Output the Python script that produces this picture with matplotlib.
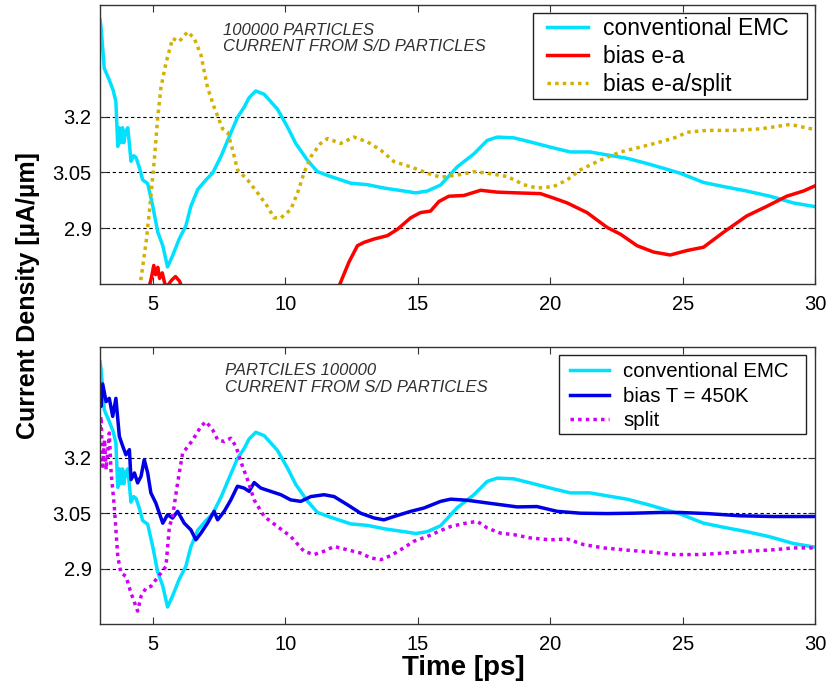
import numpy as np
import matplotlib
matplotlib.use("Agg")
import matplotlib.pyplot as plt
from matplotlib.patches import Rectangle

plt.rcParams['font.family'] = ['Liberation Sans', 'DejaVu Sans']

# conventional EMC (same run in both panels)
t_conv = [3.0, 3.04, 3.16, 3.34, 3.5, 3.6, 3.67, 3.73, 3.79, 3.85, 3.9, 3.97, 4.05, 4.17, 4.27, 4.36, 4.5, 4.61,
          4.8, 4.99, 5.18, 5.37, 5.55, 5.74, 5.99, 6.24, 6.43, 6.69, 7.0, 7.25, 7.56, 7.82, 8.19, 8.44, 8.63,
          8.88, 9.2, 9.7, 10.08, 10.39, 10.83, 11.21, 11.71, 12.47, 13.1, 13.72, 14.48, 14.92, 15.36, 15.86,
          16.49, 17.12, 17.62, 18.0, 18.62, 19.25, 20.0, 20.76, 21.5, 22.15, 22.9, 23.65, 24.28, 24.9, 25.79,
          26.54, 27.42, 28.3, 29.18, 30.0]
j_conv = [3.46, 3.44, 3.33, 3.30, 3.27, 3.24, 3.12, 3.17, 3.13, 3.17, 3.13, 3.16, 3.17, 3.08, 3.095, 3.09, 3.06, 3.03,
          3.02, 2.96, 2.89, 2.853, 2.796, 2.826, 2.871, 2.906, 2.959, 3.004, 3.03, 3.048, 3.092, 3.136, 3.198,
          3.225, 3.251, 3.269, 3.26, 3.22, 3.172, 3.128, 3.083, 3.052, 3.039, 3.021, 3.017, 3.008, 3.0, 2.995,
          3.0, 3.016, 3.065, 3.1, 3.136, 3.145, 3.143, 3.132, 3.118, 3.105, 3.105, 3.097, 3.088, 3.074, 3.061,
          3.048, 3.023, 3.012, 3.0, 2.986, 2.968, 2.958]

# bias e-a (leaves the plot below 2.75 between ~6 and 12 ps)
t_bias_ea = [4.85, 4.95, 5.03, 5.1, 5.18, 5.25, 5.35, 5.45, 5.55, 5.7, 5.85, 6.0, 6.1, 9.0,
             12.0, 12.4, 12.72, 12.97, 13.35, 13.85, 14.23, 14.73, 15.1, 15.48, 15.8, 16.17, 16.74, 17.37,
             18.0, 18.75, 19.63, 20.13, 20.64, 21.39, 22.15, 22.65, 23.28, 23.9, 24.53, 25.16, 25.79, 26.54,
             27.42, 28.18, 28.93, 29.56, 30.0]
j_bias_ea = [2.74, 2.77, 2.80, 2.775, 2.795, 2.765, 2.78, 2.75, 2.745, 2.76, 2.77, 2.758, 2.74, np.nan,
             2.74, 2.809, 2.853, 2.862, 2.871, 2.88, 2.897, 2.928, 2.942, 2.946, 2.972, 2.986, 2.988, 3.002,
             2.997, 2.995, 2.993, 2.981, 2.968, 2.942, 2.902, 2.884, 2.853, 2.836, 2.828, 2.84, 2.849, 2.889,
             2.933, 2.959, 2.986, 3.0, 3.014]

# bias e-a/split
t_split_ea = [4.5, 4.74, 4.86, 5.05, 5.18, 5.3, 5.49, 5.74, 5.99, 6.31, 6.56, 6.81, 7.06, 7.31, 7.63, 7.82,
              8.01, 8.19, 8.57, 8.95, 9.32, 9.57, 9.83, 10.2, 10.46, 10.7, 10.96, 11.33, 11.59, 12.09, 12.59,
              13.1, 13.6, 14.1, 14.73, 15.36, 15.86, 16.49, 17.12, 17.62, 18.38, 19.0, 19.5, 20.13, 20.64,
              21.14, 21.89, 22.65, 23.4, 24.16, 24.78, 25.16, 25.92, 26.92, 27.93, 29.06, 30.0]
j_split_ea = [2.74, 2.862, 2.942, 3.083, 3.198, 3.278, 3.344, 3.41, 3.402, 3.428, 3.41, 3.366, 3.278, 3.225,
              3.167, 3.158, 3.11, 3.057, 3.03, 2.995, 2.959, 2.928, 2.928, 2.95, 2.995, 3.048, 3.092, 3.128,
              3.141, 3.128, 3.145, 3.132, 3.11, 3.079, 3.065, 3.048, 3.037, 3.043, 3.052, 3.048, 3.039, 3.017,
              3.008, 3.012, 3.03, 3.057, 3.083, 3.105, 3.118, 3.132, 3.145, 3.158, 3.163, 3.163, 3.167, 3.179,
              3.165]

# bias T = 450K
t_bias_T = [3.0, 3.04, 3.1, 3.23, 3.35, 3.48, 3.6, 3.73, 3.86, 3.98, 4.11, 4.17, 4.3, 4.42, 4.55, 4.67, 4.8,
            4.92, 5.11, 5.37, 5.55, 5.74, 5.93, 6.18, 6.43, 6.62, 6.81, 7.06, 7.31, 7.44, 7.69, 7.94, 8.19,
            8.44, 8.63, 8.82, 9.07, 9.45, 9.83, 10.2, 10.58, 10.96, 11.46, 11.84, 12.34, 12.84, 13.35, 13.72,
            14.1, 14.73, 15.23, 15.86, 16.24, 16.87, 17.49, 18.12, 18.75, 19.5, 20.26, 21.14, 22.15, 23.15,
            24.16, 24.9, 25.92, 27.17, 28.43, 30.0]
j_bias_T = [3.36, 3.339, 3.40, 3.352, 3.361, 3.312, 3.361, 3.258, 3.231, 3.208, 3.222, 3.141, 3.159, 3.132,
            3.15, 3.195, 3.159, 3.105, 3.077, 3.023, 3.046, 3.037, 3.055, 3.023, 3.005, 2.978, 2.996, 3.023,
            3.055, 3.032, 3.055, 3.086, 3.123, 3.118, 3.109, 3.133, 3.118, 3.109, 3.1, 3.086, 3.082, 3.095,
            3.1, 3.095, 3.073, 3.05, 3.037, 3.032, 3.041, 3.055, 3.064, 3.082, 3.088, 3.085, 3.079, 3.073,
            3.067, 3.068, 3.055, 3.05, 3.049, 3.05, 3.052, 3.052, 3.049, 3.043, 3.041, 3.041]

# split
t_split = [3.0, 3.04, 3.1, 3.17, 3.23, 3.35, 3.42, 3.54, 3.67, 3.79, 3.98, 4.17, 4.42, 4.55, 4.74, 4.92, 5.11,
           5.3, 5.49, 5.62, 5.74, 5.93, 6.12, 6.37, 6.62, 6.81, 7.0, 7.25, 7.44, 7.69, 7.94, 8.13, 8.38, 8.57,
           8.82, 9.2, 9.7, 10.2, 10.7, 11.08, 11.46, 11.84, 12.34, 12.84, 13.22, 13.6, 13.97, 14.35, 14.85,
           15.36, 15.86, 16.24, 16.74, 17.24, 17.62, 18.12, 18.62, 19.25, 20.0, 20.64, 21.26, 22.02, 22.9,
           23.9, 24.66, 25.67, 26.54, 27.42, 28.43, 29.18, 30.0]
j_split = [3.28, 3.312, 3.177, 3.249, 3.168, 3.267, 3.159, 3.068, 2.933, 2.888, 2.879, 2.834, 2.785, 2.825,
           2.848, 2.852, 2.87, 2.888, 2.906, 3.014, 3.041, 3.132, 3.213, 3.235, 3.262, 3.285, 3.298, 3.276,
           3.249, 3.244, 3.253, 3.231, 3.177, 3.141, 3.086, 3.041, 3.014, 2.987, 2.947, 2.938, 2.947, 2.96,
           2.951, 2.942, 2.929, 2.924, 2.935, 2.951, 2.974, 2.987, 3.003, 3.014, 3.022, 3.028, 3.01, 2.996,
           2.992, 2.983, 2.978, 2.98, 2.965, 2.956, 2.95, 2.944, 2.938, 2.938, 2.942, 2.947, 2.951, 2.956,
           2.956]

yticks = [2.9, 3.05, 3.2]
xticks = [5, 10, 15, 20, 25, 30]

CYAN = '#00e0ff'
RED = '#ff0000'
GOLD = '#d4b000'
BLUE = '#0000e6'
MAGENTA = '#d000f5'
LW = 2.5
DOT = (0, (1, 1.2))

fig = plt.figure(figsize=(8.3, 6.98), dpi=100)
ax1 = fig.add_axes([0.1205, 0.5931, 0.8615, 0.3997])
ax2 = fig.add_axes([0.1205, 0.1060, 0.8615, 0.3969])


def style(ax):
    ax.set_xlim(3, 30)
    ax.set_ylim(2.75, 3.5)
    ax.set_xticks(xticks)
    ax.set_yticks(yticks)
    ax.set_yticklabels([f'{v:g}' for v in yticks])
    ax.tick_params(direction='in', top=True, right=True, length=5, width=0.8,
                   labelsize=14.5, color='#333333')
    ax.tick_params(axis='x', pad=8)
    ax.tick_params(axis='y', pad=6)
    ax.yaxis.grid(True, color='black', linestyle=(0, (3, 2.5)), linewidth=0.8)
    ax.set_axisbelow(True)
    for sp in ax.spines.values():
        sp.set_color('#333333')
        sp.set_linewidth(1.0)


def legend_box(ax, box, center, fontsize, handlelength, textpad, spacing):
    # white box with a thin black edge, legend entries centred inside it
    x0, y0, x1, y1 = box
    ax.add_patch(Rectangle((x0, y0), x1 - x0, y1 - y0, transform=ax.transAxes, facecolor='white',
                           edgecolor='#222222', linewidth=1.0, zorder=4))
    leg = ax.legend(loc='center', bbox_to_anchor=center, borderaxespad=0, borderpad=0, frameon=False,
                    fontsize=fontsize, handlelength=handlelength, handletextpad=textpad,
                    labelspacing=spacing)
    leg.set_zorder(5)


style(ax1)
style(ax2)

ax1.plot(t_conv, j_conv, color=CYAN, lw=LW, label='conventional EMC')
ax1.plot(t_bias_ea, j_bias_ea, color=RED, lw=LW, label='bias e-a')
ax1.plot(t_split_ea, j_split_ea, color=GOLD, lw=LW, linestyle=DOT, dash_capstyle='butt',
         label='bias e-a/split')

ax2.plot(t_conv, j_conv, color=CYAN, lw=LW, label='conventional EMC')
ax2.plot(t_bias_T, j_bias_T, color=BLUE, lw=LW, label='bias T = 450K')
ax2.plot(t_split, j_split, color=MAGENTA, lw=LW, linestyle=DOT, dash_capstyle='butt', label='split')

legend_box(ax1, (0.6056, 0.663, 0.989, 0.971), (0.794, 0.815), 16.5, 1.8, 0.65, 0.22)
legend_box(ax2, (0.642, 0.686, 0.987, 0.971), (0.81, 0.822), 14.7, 1.9, 0.7, 0.27)

ax1.text(0.172, 0.88, '100000 PARTICLES\nCURRENT FROM S/D PARTICLES', transform=ax1.transAxes,
         fontsize=12, style='italic', color='#303030', va='center', ha='left', linespacing=1.15)
ax2.text(0.175, 0.884, 'PARTCILES 100000\nCURRENT FROM S/D PARTICLES', transform=ax2.transAxes,
         fontsize=12, style='italic', color='#303030', va='center', ha='left', linespacing=1.15)

fig.text(28 / 830, 1 - 296 / 698, 'Current Density [µA/µm]', rotation=90, fontsize=18,
         fontweight='bold', ha='center', va='center')
fig.text(463 / 830, 1 - 668 / 698, 'Time [ps]', fontsize=20, fontweight='bold', ha='center', va='center')

fig.savefig('out.png', dpi=100)
